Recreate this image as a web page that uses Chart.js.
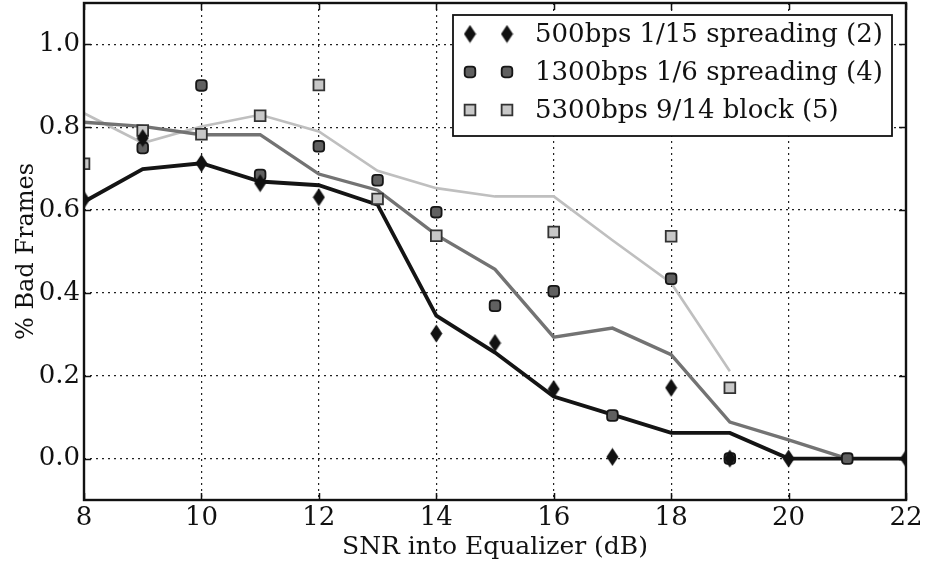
<!DOCTYPE html>
<html>
<head>
<meta charset="utf-8">
<script src="https://cdn.jsdelivr.net/npm/chart.js@4/dist/chart.umd.min.js"></script>
<style>
html,body{margin:0;padding:0;background:#fff;}
#wrap{width:927px;height:562px;}
</style>
</head>
<body>
<div id="wrap"><canvas id="c" width="927" height="562"></canvas></div>
<script>
// ---- data ----
const snr = [8, 9, 10, 11, 12, 13, 14, 15, 16, 17, 18, 19, 20, 21, 22];
const seriesNames = ['500bps 1/15 spreading (2)', '1300bps 1/6 spreading (4)', '5300bps 9/14 block (5)'];
// measured points (markers)
const pts500  = [0.625, 0.774, 0.713, 0.665, 0.631, null, 0.302, 0.279, 0.168, 0.004, 0.171, 0.0, 0.0, null, 0.0];
const pts1300 = [null, 0.750, 0.901, 0.685, 0.754, 0.672, 0.595, 0.369, 0.404, 0.104, 0.434, 0.0, null, 0.0, null];
const pts5300 = [0.712, 0.792, 0.783, 0.828, 0.902, 0.627, 0.538, null, 0.547, null, 0.537, 0.171, null, null, null];
// smoothed curves (lines)
const line500  = [0.620, 0.699, 0.713, 0.669, 0.660, 0.613, 0.345, 0.256, 0.150, 0.106, 0.062, 0.062, 0.0, 0.0, 0.0];
const line1300 = [0.812, 0.802, 0.782, 0.782, 0.687, 0.648, 0.540, 0.457, 0.293, 0.315, 0.251, 0.088, 0.045, 0.0, null];
const line5300 = [0.834, 0.762, 0.802, 0.830, 0.790, 0.695, 0.653, 0.633, 0.633, 0.527, 0.424, 0.211, null, null, null];
const xTicks = [8, 10, 12, 14, 16, 18, 20, 22];
const yTicks = [0.0, 0.2, 0.4, 0.6, 0.8, 1.0];

const FONT = "'DejaVu Serif', 'Liberation Serif', serif";

function toXY(arr) {
  return snr.map((x, i) => ({x: x, y: arr[i]})).filter(p => p.y !== null);
}

// diamond marker
const diamond = document.createElement('canvas');
diamond.width = 13; diamond.height = 19;
(function(){
  const g = diamond.getContext('2d');
  g.fillStyle = '#111';
  g.beginPath();
  g.moveTo(6.5, 0.5); g.lineTo(12.5, 9.5); g.lineTo(6.5, 18.5); g.lineTo(0.5, 9.5); g.closePath();
  g.fill();
})();

const markerStyles = [
  {pointStyle: diamond, radius: 9, bg: '#111', border: '#111', bw: 0},
  {pointStyle: 'rectRounded', radius: 6.2, bg: '#606060', border: '#161616', bw: 1.8},
  {pointStyle: 'rect', radius: 7.6, bg: '#c8c8c8', border: '#333', bw: 1.8}
];

function markerDs(data, s, order) {
  return {
    type: 'scatter', data: toXY(data), showLine: false, order: order,
    pointStyle: s.pointStyle, pointRadius: s.radius, pointHoverRadius: s.radius,
    pointBackgroundColor: s.bg, pointBorderColor: s.border, pointBorderWidth: s.bw
  };
}
function lineDs(data, color, width, order) {
  return {
    type: 'line', data: toXY(data), order: order, showLine: true,
    borderColor: color, borderWidth: width, pointRadius: 0, fill: false, tension: 0
  };
}

const lineColors = ['#141414', '#737373', '#bfbfbf'];

const framePlugin = {
  id: 'frame',
  afterDraw(chart) {
    const {ctx, chartArea: a, scales} = chart;
    ctx.save();
    // inward ticks
    ctx.strokeStyle = '#111';
    ctx.lineWidth = 1.5;
    const tl = 7;
    xTicks.forEach(v => {
      const px = Math.round(scales.x.getPixelForValue(v)) + 0.5;
      ctx.beginPath();
      ctx.moveTo(px, a.bottom); ctx.lineTo(px, a.bottom - tl);
      ctx.moveTo(px, a.top); ctx.lineTo(px, a.top + tl);
      ctx.stroke();
    });
    yTicks.forEach(v => {
      const py = Math.round(scales.y.getPixelForValue(v)) + 0.5;
      ctx.beginPath();
      ctx.moveTo(a.left, py); ctx.lineTo(a.left + tl, py);
      ctx.moveTo(a.right, py); ctx.lineTo(a.right - tl, py);
      ctx.stroke();
    });
    // frame
    ctx.lineWidth = 2.4;
    ctx.strokeStyle = '#111';
    ctx.strokeRect(a.left, a.top, a.right - a.left, a.bottom - a.top);

    // legend
    const lx = 453, ly = 15, lw = 439, lh = 121;
    ctx.fillStyle = '#fff';
    ctx.fillRect(lx, ly, lw, lh);
    ctx.lineWidth = 1.8;
    ctx.strokeStyle = '#111';
    ctx.strokeRect(lx, ly, lw, lh);
    const rows = [34, 72, 110];
    ctx.font = "26px " + FONT;
    ctx.textBaseline = 'middle';
    ctx.textAlign = 'left';
    seriesNames.forEach((name, i) => {
      const s = markerStyles[i];
      [470, 507].forEach(mx => {
        if (Chart.helpers && Chart.helpers.drawPoint) {
          ctx.fillStyle = s.bg; ctx.strokeStyle = s.border; ctx.lineWidth = s.bw;
          Chart.helpers.drawPoint(ctx, {pointStyle: s.pointStyle, radius: s.radius, rotation: 0, borderWidth: s.bw}, mx, rows[i]);
        }
      });
      ctx.fillStyle = '#111';
      ctx.fillText(name, 535, rows[i] + 1);
    });
    ctx.restore();
  }
};

new Chart(document.getElementById('c'), {
  data: {
    datasets: [
      markerDs(pts500, markerStyles[0], 1),
      markerDs(pts1300, markerStyles[1], 2),
      markerDs(pts5300, markerStyles[2], 3),
      lineDs(line500, lineColors[0], 3.8, 4),
      lineDs(line1300, lineColors[1], 3.4, 5),
      lineDs(line5300, lineColors[2], 2.6, 6)
    ]
  },
  options: {
    responsive: false,
    animation: false,
    layout: {autoPadding: false, padding: {top: 3, right: 21, left: 0, bottom: 0}},
    plugins: {legend: {display: false}, tooltip: {enabled: false}},
    scales: {
      x: {
        type: 'linear', min: 8, max: 22,
        afterBuildTicks(scale) { scale.ticks = xTicks.map(v => ({value: v})); },
        afterFit(scale) { scale.height = 62; scale.paddingLeft = 0; scale.paddingRight = 0; },
        grid: {color: '#222', lineWidth: 1.2, drawTicks: false},
        border: {display: false, dash: [2, 4]},
        ticks: {color: '#111', padding: 3, maxRotation: 0, font: {family: FONT, size: 26}, callback: v => String(v)},
        title: {display: true, text: 'SNR into Equalizer (dB)', color: '#111', font: {family: FONT, size: 25}, padding: {top: 0, bottom: 0}}
      },
      y: {
        type: 'linear', min: -0.1, max: 1.1,
        afterBuildTicks(scale) { scale.ticks = yTicks.map(v => ({value: v})); },
        afterFit(scale) { scale.width = 84; scale.paddingTop = 0; scale.paddingBottom = 0; },
        grid: {color: '#222', lineWidth: 1.2, drawTicks: false},
        border: {display: false, dash: [2, 4]},
        ticks: {color: '#111', padding: 4, font: {family: FONT, size: 26}, callback: v => v.toFixed(1)},
        title: {display: true, text: '% Bad Frames', color: '#111', font: {family: FONT, size: 24}, padding: {top: 12, bottom: 0}}
      }
    }
  },
  plugins: [framePlugin]
});
</script>
</body>
</html>
